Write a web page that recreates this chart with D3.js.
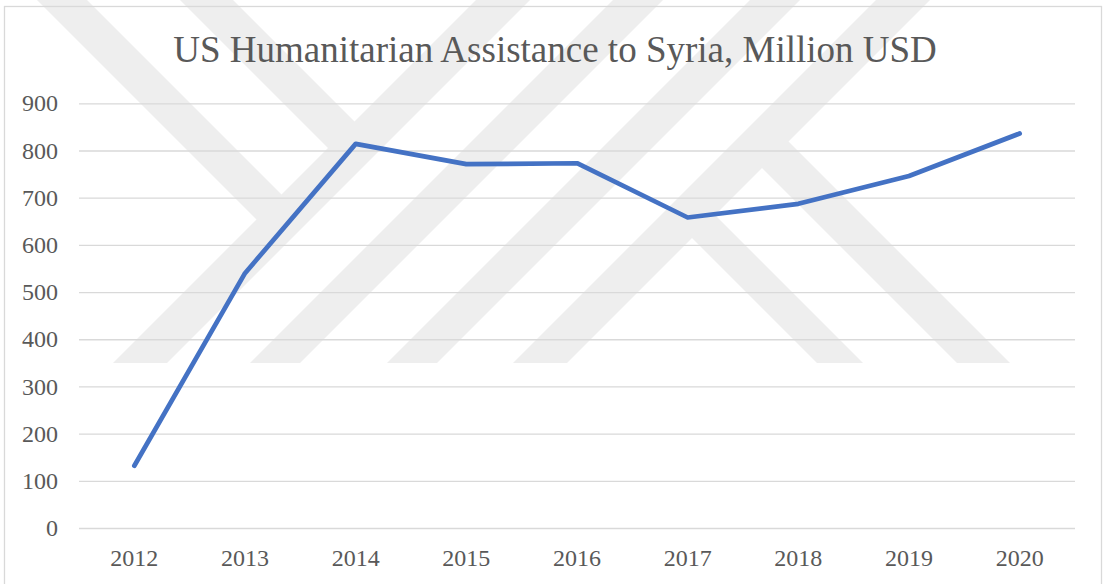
<!DOCTYPE html>
<html>
<head>
<meta charset="utf-8">
<script src="https://cdn.jsdelivr.net/npm/d3@7"></script>
<style>
  body { margin: 0; background: #fff; }
  svg { display: block; }
</style>
</head>
<body>
<div id="chart"></div>
<script>
// chart data
const years = ["2012", "2013", "2014", "2015", "2016", "2017", "2018", "2019", "2020"];
const assistance = [132, 540, 814, 771, 773, 658, 687, 746, 836];
const yTicks = [0, 100, 200, 300, 400, 500, 600, 700, 800, 900];
const title = "US Humanitarian Assistance to Syria, Million USD";

const W = 1106, H = 584;
const plot = {left: 79, right: 1075, top: 103.3, bottom: 528};

const svg = d3.select("#chart")
    .append("svg")
    .attr("width", W)
    .attr("height", H);

// background watermark (light diagonal bands behind the chart)
const wm = svg.append("g").attr("fill", "#eeeeee");
const wmBottom = 363;
// rising bands: x of left/right edge at the bottom cut
[[113, 167], [250, 300], [387, 437], [513, 567]].forEach(([a, b]) => {
    wm.append("polygon").attr("points",
        `${a},${wmBottom} ${b},${wmBottom} ${b + wmBottom},0 ${a + wmBottom},0`);
});
// falling bands that join a rising band (edges at x - y = a, b; joined where x + y = k)
[[37, 87, 500], [180, 233, 500]].forEach(([a, b, k]) => {
    wm.append("polygon").attr("points",
        `${a},0 ${b},0 ${(b + k) / 2},${(k - b) / 2} ${(a + k) / 2},${(k - a) / 2}`);
});
[[454, 500, 903], [594, 647, 903]].forEach(([a, b, k]) => {
    wm.append("polygon").attr("points",
        `${(a + k) / 2},${(k - a) / 2} ${(b + k) / 2},${(k - b) / 2} ${b + wmBottom},${wmBottom} ${a + wmBottom},${wmBottom}`);
});

// chart area border
svg.append("rect")
    .attr("x", 4.5).attr("y", 6.5)
    .attr("width", 1097).attr("height", 620)
    .attr("fill", "none")
    .attr("stroke", "#d9d9d9")
    .attr("stroke-width", 1.3);

const x = d3.scaleBand()
    .domain(years)
    .range([plot.left, plot.right])
    .padding(0);

const y = d3.scaleLinear()
    .domain([0, 900])
    .range([plot.bottom, plot.top]);

const font = "'Liberation Serif', 'Times New Roman', serif";

// y axis with gridlines
const yAxis = svg.append("g")
    .attr("transform", `translate(${plot.left},0)`)
    .call(d3.axisLeft(y)
        .tickValues(yTicks)
        .tickSize(-(plot.right - plot.left))
        .tickPadding(21));
yAxis.select(".domain").remove();
yAxis.selectAll(".tick line")
    .attr("stroke", "#d9d9d9")
    .attr("stroke-width", 1.3);
yAxis.selectAll(".tick text")
    .attr("fill", "#595959")
    .style("font-family", font)
    .style("font-size", "24px");

// x axis
const xAxis = svg.append("g")
    .attr("transform", `translate(0,${plot.bottom})`)
    .call(d3.axisBottom(x).tickSize(0).tickPadding(21));
xAxis.select(".domain").remove();
xAxis.selectAll(".tick text")
    .attr("fill", "#595959")
    .style("font-family", font)
    .style("font-size", "24px");

// line
const line = d3.line()
    .x((d, i) => x(years[i]) + x.bandwidth() / 2)
    .y(d => y(d));

svg.append("path")
    .datum(assistance)
    .attr("d", line)
    .attr("fill", "none")
    .attr("stroke", "#4472c4")
    .attr("stroke-width", 4.7)
    .attr("stroke-linecap", "round")
    .attr("stroke-linejoin", "round");

// title
svg.append("text")
    .attr("x", 555)
    .attr("y", 62)
    .attr("text-anchor", "middle")
    .attr("fill", "#595959")
    .style("font-family", font)
    .style("font-size", "37px")
    .text(title);
</script>
</body>
</html>
